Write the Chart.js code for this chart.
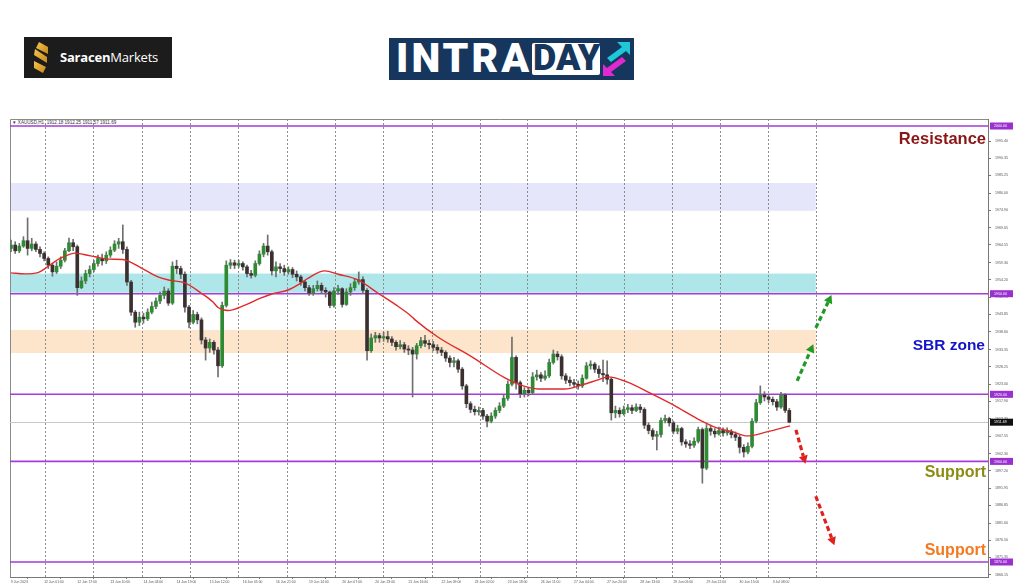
<!DOCTYPE html>
<html><head><meta charset="utf-8">
<script src="https://cdn.jsdelivr.net/npm/chart.js@4.4.1/dist/chart.umd.min.js"></script>
<style>
html,body{margin:0;padding:0;background:#fff;width:1024px;height:587px;overflow:hidden;font-family:'Liberation Sans',Arial,sans-serif}
#wrap{position:absolute;left:0;top:117px;width:1024px;height:470px}
.lbl{position:absolute;font-weight:bold;font-family:'Liberation Sans',Arial,sans-serif;white-space:nowrap;text-align:right}
</style></head><body>
<!-- Saracen logo -->
<div style="position:absolute;left:24px;top:37px;width:148px;height:41px;background:#1c1c1c">
 <svg style="position:absolute;left:8px;top:5px" width="18" height="31" viewBox="0 0 18 31">
  <defs><linearGradient id="gg" x1="0" y1="0" x2="1" y2="1"><stop offset="0" stop-color="#f8c64a"/><stop offset="1" stop-color="#c5861b"/></linearGradient></defs>
  <polygon points="7,0 16,5 16,12 4,6" fill="url(#gg)"/>
  <polygon points="3,7 15,15 15,21 2,13" fill="url(#gg)"/>
  <polygon points="2,19 14,25 11,31 2,26" fill="url(#gg)"/>
 </svg>
 <div style="position:absolute;left:36px;top:11px;font-family:'Open Sans',sans-serif;font-size:13px;color:#fff;letter-spacing:-0.2px"><b>Saracen</b>Markets</div>
</div>
<!-- INTRADAY logo -->
<div style="position:absolute;left:389px;top:38px;width:245px;height:42px;background:#17365d;overflow:hidden">
 <div style="position:absolute;left:7px;top:-4px;font-family:Roboto,sans-serif;font-weight:900;font-size:41px;color:#fff;letter-spacing:3px">INTRA</div>
 <div style="position:absolute;left:143px;top:5px;width:68px;height:32px;background:#fff;border-radius:2px"></div>
 <div style="position:absolute;left:144px;top:-1px;font-family:Roboto,sans-serif;font-weight:900;font-size:36px;color:#17365d;letter-spacing:0px">DAY</div>
 <svg style="position:absolute;left:214px;top:4px" width="28" height="34" viewBox="0 0 28 34">
  <polygon points="14,0 27,0 27,13 23,9 8,20 4,16 19,5" fill="#1ec8d8"/>
  <polygon points="12,34 0,34 0,22 4,26 19,15 23,19 8,30" fill="#e02ad0"/>
 </svg>
</div>
<div style="position:absolute;left:12px;top:120px;font-size:4.6px;color:#333;white-space:nowrap">&#9660; XAUUSD,H1&nbsp; 1912.18 1912.25 1911.57 1911.69</div>
<div id="wrap"><canvas id="c"></canvas></div>
<div class="lbl" style="right:38px;top:129px;font-size:16.5px;color:#8b1414">Resistance</div>
<div class="lbl" style="right:39px;top:336px;font-size:15.5px;color:#1414c8">SBR zone</div>
<div class="lbl" style="right:38px;top:463px;font-size:16px;color:#8c8c14">Support</div>
<div class="lbl" style="right:38px;top:541px;font-size:16px;color:#f47a20">Support</div>
<script>
// ---- data (2-hour candles, bar index 0..188) ----
const closes = [1964.5,1962.8,1964.2,1965.8,1963.5,1964.8,1963.2,1962,1960.5,1958.5,
1956.5,1958.2,1960,1962.8,1965.2,1964,1951.8,1953.8,1956,1957.2,
1959,1960.5,1959.8,1961.5,1963,1964.8,1965.5,1963.2,1953.5,1944.5,
1941.5,1943,1942.5,1944.5,1946.2,1947.8,1949.5,1950.8,1947.2,1958.2,
1957.5,1955.8,1946,1941.5,1943.8,1942.2,1936.2,1933.8,1935.5,1933.2,
1928.5,1946.5,1958.5,1959.2,1958.5,1959,1958,1956,1955.5,1959,
1961.8,1964.2,1962.5,1956.8,1958,1957.5,1956.5,1957.2,1955.8,1955,
1953.5,1951.8,1950.2,1951.5,1952.5,1951,1950.5,1946.5,1950.8,1951.5,
1946.8,1950.5,1951.8,1953.5,1954.2,1951,1933,1936.8,1937.5,1936.8,
1937.2,1936.5,1935.5,1934.2,1934.8,1933.5,1933.2,1932,1934.5,1936,
1935.2,1934.8,1934,1933.2,1932.5,1930.8,1929.5,1930,1927.5,1922.5,
1917.2,1915.5,1914.8,1915.2,1913.5,1912,1913.5,1915.2,1916.5,1918.8,
1923,1931,1923.5,1920.2,1921.2,1920.5,1925.2,1925.8,1924.8,1925.5,
1929.5,1932,1931.2,1925.5,1924.2,1923.5,1923,1922.5,1924.8,1928.5,
1929,1927.5,1926.2,1925.8,1924.5,1914.5,1915.2,1914.2,1915.5,1916,
1915.2,1916.2,1915.5,1910.8,1909.2,1907.5,1908,1912.2,1912.8,1911.5,
1909,1909.8,1905.8,1905.2,1904.8,1906,1909.5,1898,1909.8,1909,
1908.2,1909.2,1908.5,1909,1908,1907.2,1904.2,1902.8,1904.5,1912,
1917.5,1919.8,1919.2,1918.5,1917.8,1916.2,1919.8,1915.2,1911.69];
const opens = [1963.5,1964.5,1962.8,1964.2,1965.8,1963.5,1964.8,1963.2,1962,1960.5,
1958.5,1956.5,1958.2,1960,1962.8,1965.2,1964,1951.8,1953.8,1956,
1957.2,1959,1960.5,1959.8,1961.5,1963,1964.8,1965.5,1963.2,1953.5,
1944.5,1941.5,1943,1942.5,1944.5,1946.2,1947.8,1949.5,1950.8,1947.2,
1958.2,1957.5,1955.8,1946,1941.5,1943.8,1942.2,1936.2,1933.8,1935.5,
1933.2,1928.5,1946.5,1958.5,1959.2,1958.5,1959,1958,1956,1955.5,
1959,1961.8,1964.2,1962.5,1956.8,1958,1957.5,1956.5,1957.2,1955.8,
1955,1953.5,1951.8,1950.2,1951.5,1952.5,1951,1950.5,1946.5,1950.8,
1951.5,1946.8,1950.5,1951.8,1953.5,1954.2,1951,1933,1936.8,1937.5,
1936.8,1937.2,1936.5,1935.5,1934.2,1934.8,1933.5,1933.2,1932,1934.5,
1936,1935.2,1934.8,1934,1933.2,1932.5,1930.8,1929.5,1930,1927.5,
1922.5,1917.2,1915.5,1914.8,1915.2,1913.5,1912,1913.5,1915.2,1916.5,
1918.8,1923,1931,1923.5,1920.2,1921.2,1920.5,1925.2,1925.8,1924.8,
1925.5,1929.5,1932,1931.2,1925.5,1924.2,1923.5,1923,1922.5,1924.8,
1928.5,1929,1927.5,1926.2,1925.8,1924.5,1914.5,1915.2,1914.2,1915.5,
1916,1915.2,1916.2,1915.5,1910.8,1909.2,1907.5,1908,1912.2,1912.8,
1911.5,1909,1909.8,1905.8,1905.2,1904.8,1906,1909.5,1898,1909.8,
1909,1908.2,1909.2,1908.5,1909,1908,1907.2,1904.2,1902.8,1904.5,
1912,1917.5,1919.8,1919.2,1918.5,1917.8,1916.2,1919.8,1915.2];
const highs = [1966,1965.5,1965,1967,1972.6,1966.5,1965.5,1964,1962.5,1961,
1959,1959.5,1961,1963.5,1966.6,1966.2,1964.5,1955,1957,1958.3,
1960,1961.5,1961.8,1962.5,1964,1965.8,1966.5,1970.5,1964,1954,
1945,1944.5,1944.2,1945.5,1947.5,1948.8,1950.5,1952,1951.5,1959.5,
1960,1958.2,1956.5,1946.5,1945,1944.5,1942.8,1937,1936.5,1936,
1934,1947.5,1959.8,1960.2,1960,1960,1959.5,1958.5,1957,1959.8,
1962.8,1965,1967.5,1963,1959.5,1959,1958.5,1958,1957.8,1956.8,
1955.5,1954,1952.5,1952.5,1953.8,1953.2,1951.8,1950.8,1951.8,1952.5,
1951.8,1951.5,1953,1954.5,1956.5,1955,1951.5,1938,1938.5,1938.2,
1938.5,1938.8,1937.2,1936,1936,1935.5,1934.5,1934,1935.2,1937,
1937.6,1936.2,1935.8,1934.8,1934,1933,1931.5,1931,1930.5,1928,
1923,1917.8,1916.5,1916.2,1915.8,1914,1914.5,1916,1917.5,1919.8,
1924,1937.1,1931.5,1924,1922,1922,1926.5,1927.2,1926.5,1927,
1930.5,1933.2,1932.8,1931.8,1926.2,1925.2,1924.5,1924,1925.8,1929.5,
1930,1929.5,1928.5,1930.2,1930,1925,1916.5,1916,1916.5,1917,
1916.8,1917.2,1917,1916,1911.5,1909.8,1909,1913,1913.8,1913.2,
1912,1910.8,1910.2,1906.5,1906.2,1907,1910.2,1910,1911,1910.8,
1909.8,1910.2,1910,1910,1909.5,1908.8,1907.8,1905,1905.5,1912.8,
1918.5,1922.5,1920.8,1920,1919.2,1918.5,1920.6,1920.2,1915.8];
const lows = [1962.5,1962,1962.2,1963.8,1961.5,1962.8,1962.5,1961,1959.8,1957.5,
1955.2,1956,1957.5,1959.5,1962.5,1962.8,1949.5,1951.5,1953,1955,
1956.5,1958.2,1958.5,1959,1960.8,1962.5,1963.5,1962,1952.5,1943.5,
1940,1940.5,1941.2,1942,1944,1945.5,1947,1948.5,1946.5,1946.8,
1956,1954.5,1944.5,1939.8,1941,1941,1935,1930.2,1932.5,1932,
1925.2,1928,1946,1957.5,1957.5,1957.8,1957,1955,1954.6,1955,
1958.5,1961,1961.5,1955.5,1955,1956.2,1955.5,1955.8,1954.8,1953.8,
1952.5,1950.8,1949.5,1949.5,1950.8,1950,1949,1945.8,1946,1949.8,
1946,1946.5,1949.5,1951,1952.8,1950,1930.2,1932.5,1935.5,1935.5,
1935.8,1935.5,1934.5,1933.2,1933.5,1932.5,1931.8,1919.2,1930.5,1933.8,
1934.2,1933.5,1933,1932.2,1931.5,1929.8,1928.2,1928.2,1926.5,1921.5,
1916,1914.5,1913.8,1913.8,1912.5,1910.3,1911.5,1912.8,1914.5,1916,
1918.2,1922.5,1921.5,1919,1919.2,1919.5,1920,1924.2,1923.8,1924.2,
1925,1929,1930.2,1924.5,1923.2,1922.5,1922,1921.5,1922,1924.5,
1927.5,1926.5,1925,1923.8,1923,1912.3,1913,1913.2,1913.8,1914.5,
1914.2,1914.8,1914.5,1909.8,1908.2,1906.5,1903.4,1907.2,1911.5,1910.5,
1908.2,1908.2,1904.8,1904.2,1903.8,1904.2,1905.5,1893.5,1897.5,1907.8,
1907.2,1907.8,1907.5,1907.8,1907,1906.2,1902.5,1901.3,1902.2,1904,
1911.5,1917,1918,1917.5,1916.8,1915.2,1915.8,1914.5,1911.5];
// moving average (read at these bar indices)
const maBars = [0,3.4,6.5,8.2,9.7,11.8,14.3,15.5,17.9,20.3,23.4,27,28.7,31.4,35.5,38.4,42,45.9,48.8,50,52.4,56.5,60.1,63,66.9,69.8,71.7,75.8,79,83.8,88.6,92.8,96.4,97.6,103.1,111.4,119.3,123,127.3,133.8,137.9,141.8,144.2,148.8,154.3,160.9,166.4,170.5,174.4,177.8,182.6,188.2];
const maVals = [1956.2,1955.9,1956.3,1957.5,1958.8,1960.5,1961.8,1962.1,1961.6,1961,1960.3,1960.2,1959.5,1957.7,1955,1954,1953.2,1950.2,1947.5,1945.9,1945,1946.6,1948.6,1949.9,1951.1,1953,1954.6,1956.8,1955.8,1954.1,1950.2,1946.8,1943.6,1942.2,1937.1,1931.1,1924.9,1922.8,1921.6,1921.6,1922.8,1924.3,1925.2,1923.7,1920.4,1916.2,1912.3,1910,1908.8,1907.6,1908.8,1910.6];
// axis labels
const xLabels = ["9 Jun 2023","12 Jun 01:00","12 Jun 17:00","13 Jun 10:00","14 Jun 03:00","14 Jun 19:00","15 Jun 12:00","16 Jun 05:00","16 Jun 21:00","19 Jun 14:00","20 Jun 07:00","20 Jun 23:00","21 Jun 16:00","22 Jun 09:00","23 Jun 02:00","23 Jun 18:00","26 Jun 11:00","27 Jun 04:00","27 Jun 20:00","28 Jun 13:00","29 Jun 06:00","29 Jun 22:00","30 Jun 15:00","3 Jul 08:00"];
const xLabelBars = xLabels.map((_, i) => i * 8);
const yTicks = [1995.40,1990.35,1985.25,1980.00,1974.90,1969.65,1964.55,1959.30,1954.20,1948.95,1943.85,1938.60,1933.35,1928.25,1923.00,1917.90,1912.70,1907.55,1902.30,1897.20,1891.95,1886.85,1881.60,1876.50,1871.35,1866.15];
const levels = [2000, 1950, 1920, 1900, 1870];
const lastPrice = 1911.69;
const zones = [[1983.0,1974.7],[1956.0,1950.3],[1939.2,1932.3]];
const zoneEndBar = 194.4;
const gridBars = [8.2,19.8,31.6,43.2,54.8,66.7,78.3,89.9,101.7,113.3,124.6,136.5,148.1,159.7,171.3,182.9,194.4];
const arrowsUp = [[[189.9,1924.0],[193.8,1934.9]],[[194.4,1939.8],[198.2,1949.6]]];
const arrowsDown = [[[189.6,1909.4],[191.9,1899.3]],[[194.4,1889.6],[198.9,1875.0]]];

// ---- styles ----
const zoneColors = ['#e6e6fa','#aee6ea','#fce5cb'];
const UP = '#2e8b34', DOWN = '#3a3030', WICK = '#6f6f6f';

const candleWicks = closes.map((c, i) => ({x: i, y: [lows[i], highs[i]]}));
const candleBodies = closes.map((c, i) => ({x: i, y: [opens[i], c]}));
const maData = maBars.map((b, i) => ({x: b, y: maVals[i]}));

function drawArrow(ctx, x, y, p, q, color) {
  const x1 = x.getPixelForValue(p[0]), y1 = y.getPixelForValue(p[1]);
  const x2 = x.getPixelForValue(q[0]), y2 = y.getPixelForValue(q[1]);
  const ang = Math.atan2(y2 - y1, x2 - x1);
  const hl = 8, hw = 4.5;
  const bx = x2 - hl * Math.cos(ang), by = y2 - hl * Math.sin(ang);
  ctx.save();
  ctx.strokeStyle = color; ctx.fillStyle = color; ctx.lineWidth = 3.2;
  ctx.setLineDash([5, 3]);
  ctx.beginPath(); ctx.moveTo(x1, y1); ctx.lineTo(bx, by); ctx.stroke();
  ctx.setLineDash([]);
  ctx.beginPath();
  ctx.moveTo(x2, y2);
  ctx.lineTo(bx + hw * Math.sin(ang), by - hw * Math.cos(ang));
  ctx.lineTo(bx - hw * Math.sin(ang), by + hw * Math.cos(ang));
  ctx.closePath(); ctx.fill();
  ctx.restore();
}

const overlay = {
  id: 'overlay',
  beforeDatasetsDraw(chart) {
    const {ctx, chartArea: a, scales: {x, y}} = chart;
    ctx.save();
    const xe = x.getPixelForValue(zoneEndBar);
    zones.forEach((z, i) => {
      const y1 = y.getPixelForValue(z[0]), y2 = y.getPixelForValue(z[1]);
      ctx.fillStyle = zoneColors[i];
      ctx.fillRect(a.left, y1, xe - a.left, y2 - y1);
    });
    ctx.strokeStyle = '#8c8c8c'; ctx.lineWidth = 1; ctx.setLineDash([2, 2]);
    gridBars.forEach(g => {
      const px = Math.round(x.getPixelForValue(g)) + 0.5;
      ctx.beginPath(); ctx.moveTo(px, a.top); ctx.lineTo(px, a.bottom); ctx.stroke();
    });
    ctx.setLineDash([]);
    // frame
    ctx.strokeStyle = '#8a8a8a'; ctx.lineWidth = 1;
    ctx.beginPath(); ctx.moveTo(a.left + 0.5, a.bottom); ctx.lineTo(a.left + 0.5, a.top + 0.5); ctx.lineTo(a.right, a.top + 0.5); ctx.stroke();
    // last price line
    const lp = Math.round(y.getPixelForValue(lastPrice)) + 0.5;
    ctx.strokeStyle = '#c8c8c8';
    ctx.beginPath(); ctx.moveTo(a.left, lp); ctx.lineTo(a.right, lp); ctx.stroke();
    // level lines
    ctx.strokeStyle = '#a53bd8'; ctx.lineWidth = 1.6;
    levels.forEach(v => {
      const py = y.getPixelForValue(v);
      ctx.beginPath(); ctx.moveTo(a.left, py); ctx.lineTo(a.right, py); ctx.stroke();
    });
    ctx.restore();
  },
  afterDatasetsDraw(chart) {
    const {ctx, scales: {x, y}} = chart;
    arrowsUp.forEach(a => drawArrow(ctx, x, y, a[0], a[1], '#1f9a22'));
    arrowsDown.forEach(a => drawArrow(ctx, x, y, a[0], a[1], '#e0201c'));
  },
  afterDraw(chart) {
    const {ctx, chartArea: a, scales: {y}} = chart;
    ctx.save();
    ctx.font = '3.6px "Liberation Sans", Arial';
    ctx.textBaseline = 'middle';
    const box = (v, bg) => {
      const py = y.getPixelForValue(v);
      ctx.fillStyle = bg; ctx.fillRect(a.right + 2, py - 3.5, 23, 7);
      ctx.fillStyle = '#fff'; ctx.fillText(v.toFixed(2), a.right + 6, py + 0.3);
    };
    levels.forEach(v => box(v, '#9b30d0'));
    box(lastPrice, '#111');
    ctx.restore();
  }
};

new Chart(document.getElementById('c'), {
  type: 'bar',
  data: {
    datasets: [
      {type: 'line', data: maData, borderColor: '#e02a2a', borderWidth: 1.4, pointRadius: 0, cubicInterpolationMode: 'monotone', order: 0},
      {data: candleBodies, grouped: false, barThickness: 3, minBarLength: 1, borderWidth: 0,
       backgroundColor: c => (closes[c.dataIndex] >= opens[c.dataIndex] ? UP : DOWN), order: 1},
      {data: candleWicks, grouped: false, barThickness: 1, borderWidth: 0, backgroundColor: WICK, order: 2}
    ]
  },
  options: {
    responsive: true, maintainAspectRatio: false, animation: false, devicePixelRatio: 1,
    layout: {padding: {left: 10, top: 2, right: 0, bottom: 0}},
    plugins: {legend: {display: false}, tooltip: {enabled: false}},
    scales: {
      x: {
        type: 'linear', min: -0.25, max: 236, offset: false,
        afterBuildTicks: s => { s.ticks = xLabelBars.map(v => ({value: v})); },
        afterFit: s => { s.height = 10; s.paddingLeft = 0; s.paddingRight = 0; },
        ticks: {autoSkip: false, maxRotation: 0, align: 'start', padding: 1, color: '#555',
                font: {size: 3.4, family: 'Liberation Sans'},
                callback: (v) => xLabels[xLabelBars.indexOf(v)] || ''},
        grid: {display: true, drawOnChartArea: false, drawTicks: true, tickLength: 2, color: '#777'},
        border: {display: true, color: '#777'}
      },
      y: {
        position: 'right', min: 1865.53, max: 2002.09,
        afterBuildTicks: s => { s.ticks = yTicks.map(v => ({value: v})); },
        afterFit: s => { s.width = 36; s.paddingTop = 0; s.paddingBottom = 0; },
        ticks: {autoSkip: false, padding: 4, color: '#555', font: {size: 3.6, family: 'Liberation Sans'},
                callback: v => Number(v).toFixed(2)},
        grid: {display: true, drawOnChartArea: false, drawTicks: true, tickLength: 3, color: '#777'},
        border: {display: true, color: '#777'}
      }
    }
  },
  plugins: [overlay]
});
</script>
</body></html>
